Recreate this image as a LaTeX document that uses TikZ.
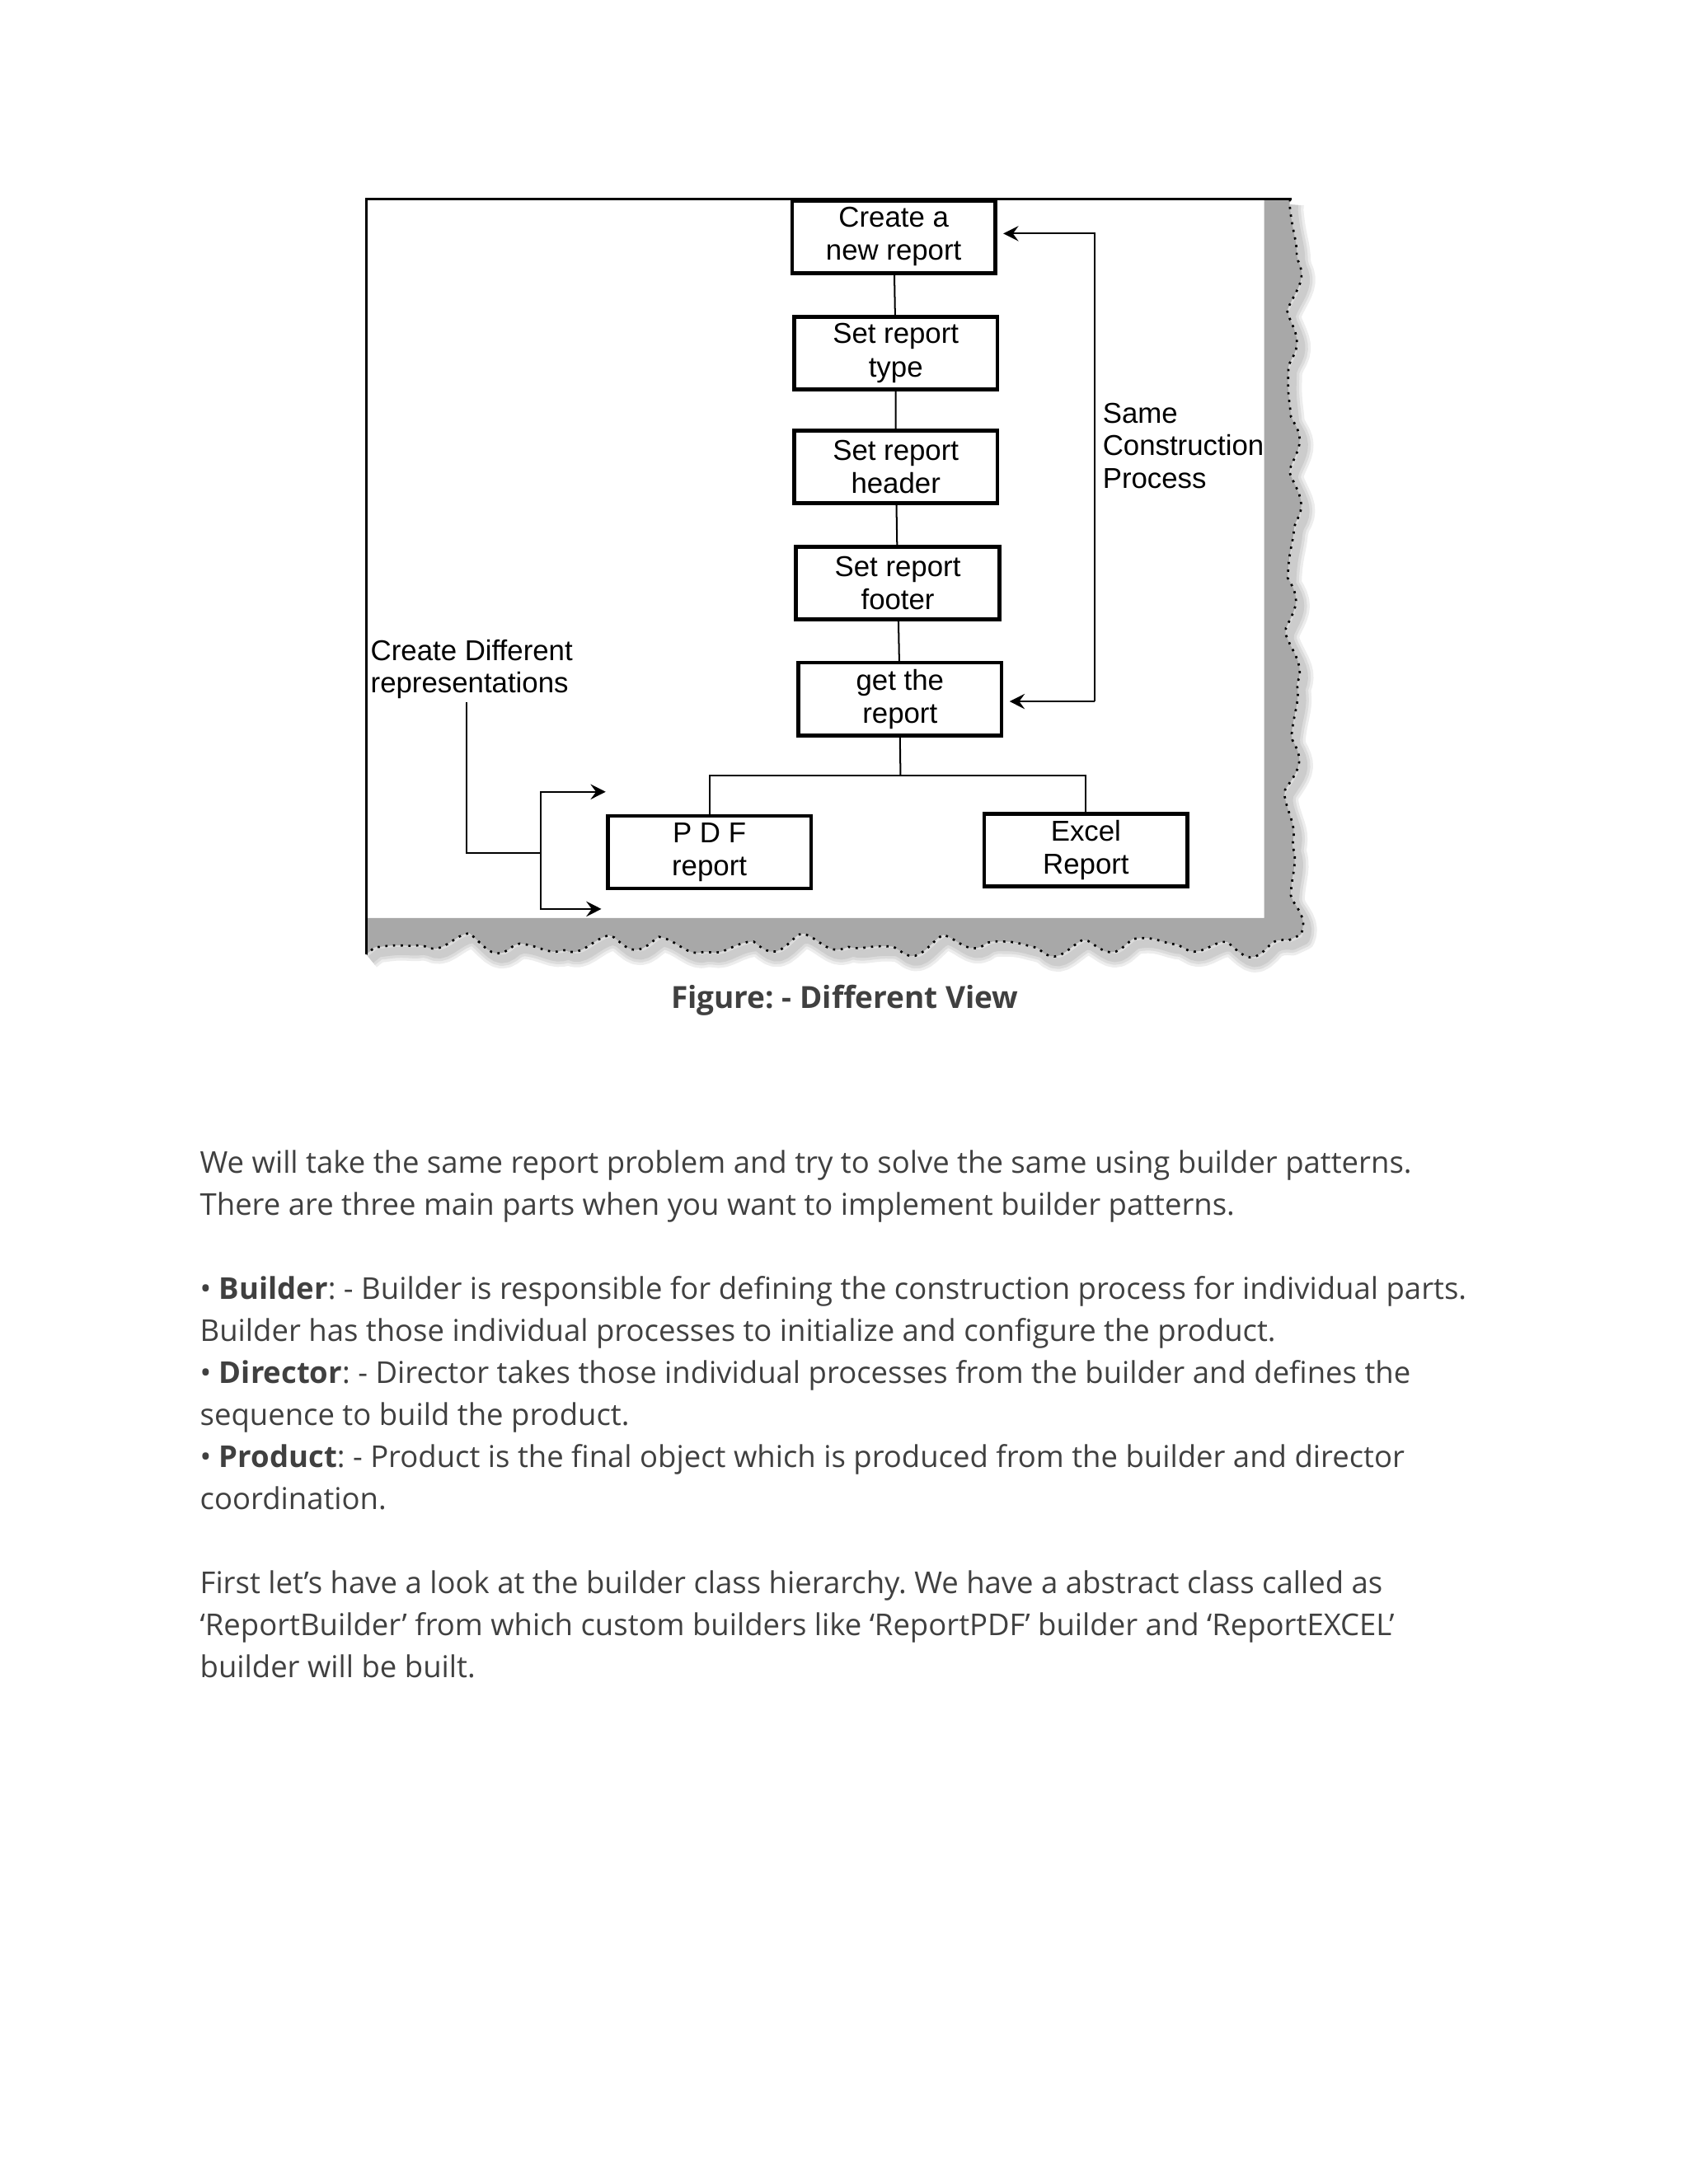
\documentclass[tikz,border=0pt]{standalone}
\usepackage{fontspec}
\setmainfont{Open Sans}
\newfontfamily\diafont{Liberation Sans}
\usetikzlibrary{arrows.meta}

\definecolor{textgray}{RGB}{64,64,64}
\definecolor{tornfill}{RGB}{168,168,168}

% borde rasgado: lado derecho y lado inferior
\newcommand{\tornedge}{%
    \foreach \t in {147,151,...,671} { -- ({tornx(\t)},\t) }
    \foreach \s in {925,921,...,267} { -- (\s,{torny(\s)}) }
    -- (263,{torny(263)})}

\begin{document}
\frenchspacing
\begin{tikzpicture}[x=0.50495pt, y=-0.50495pt,
    >={Stealth[length=5.5pt,width=5.5pt,inset=2pt]}, line width=0.6pt,
    declare function={
        tornx(\t)=926+3*sin(\t*6.1)+2.5*sin(\t*2.3+10)+4*abs(sin(\t*4.7+30));
        torny(\s)=676+4*sin(\s*7.3)+3*sin(\s*2.9+40)+5*abs(sin(\s*5.3+15));},
    stepbox/.style={draw, line width=1.35pt, minimum width=73.7pt,
        minimum height=26.3pt, inner sep=0pt, align=center,
        font=\diafont\fontsize{10.4}{12}\selectfont},
    sidenote/.style={align=left, inner sep=1pt,
        font=\diafont\fontsize{10.4}{11.8}\selectfont},
    bodyline/.style={anchor=base west, inner sep=0pt, text=textgray,
        font=\fontsize{10.9}{12}\selectfont},
    conn/.style={line width=0.6pt},
    backarrow/.style={->, line width=0.6pt, shorten >=2.2pt}]

% ═══════════════════════════════════════════════════════
% PAGINA
% ═══════════════════════════════════════════════════════

\fill[white] (0,0) rectangle (1212,1568);
\useasboundingbox (0,0) rectangle (1212,1568);

% ═══════════════════════════════════════════════════════
% BORDE RASGADO (sombra gris)
% ═══════════════════════════════════════════════════════

% sombra difusa
\foreach \w in {7,5,3}
    \draw[black, opacity=0.07, line width=\w pt, line join=round,
          shift={(3,4)}] (926,143) \tornedge;

% banda gris
\fill[tornfill] (907.5,143) -- (926,143) \tornedge
    -- (263,659) -- (907.5,659) -- cycle;

% borde punteado
\draw[dotted, line width=0.8pt] (926,143) \tornedge;

% marco
\draw[line width=0.8pt] (927,143) -- (263,143) -- (263,{torny(263)});

% ═══════════════════════════════════════════════════════
% PASOS DE CONSTRUCCION
% ═══════════════════════════════════════════════════════

\node[stepbox] (create)  at (641.5,170.0) {Create a\\new report};
\node[stepbox] (settype) at (643.0,253.5) {Set report\\type};
\node[stepbox] (sethead) at (643.0,335.3) {Set report\\header};
\node[stepbox] (setfoot) at (644.4,418.5) {Set report\\footer};
\node[stepbox] (getrep)  at (646.0,501.9) {get the\\report};

% representaciones
\node[stepbox] (pdfrep)   at (509.2,611.7) {P D F\\report};
\node[stepbox] (excelrep) at (779.5,610.3) {Excel\\Report};

% ═══════════════════════════════════════════════════════
% CONEXIONES
% ═══════════════════════════════════════════════════════

\draw[conn] (create) -- (settype) -- (sethead) -- (setfoot) -- (getrep);

\coordinate (bus) at (646.4,556.9);
\draw[conn] (getrep.south) -- (bus);
\draw[conn] (pdfrep.north) |- (bus) -| (excelrep.north);

% mismo proceso (lazo derecho)
\coordinate (looptop) at (785.8,167.7);
\coordinate (loopbot) at (785.8,503.6);
\draw[backarrow] (loopbot) -- (looptop) -- (create.east |- looptop);
\draw[backarrow] (loopbot) -- (getrep.east |- loopbot);

\node[sidenote, anchor=west] (sameproc) at (789,320)
    {Same\\Construction\\Process};

% representaciones diferentes (izquierda)
\node[sidenote, anchor=west] (diffrep) at (263.5,480.5)
    {Create Different\\representations};

\coordinate (fork)   at (388.1,612.5);
\coordinate (reptop) at (434.8,568.5);
\coordinate (repbot) at (431.7,652.6);
\draw[conn] (diffrep.south -| 335.1,0) -- (335.1,612.5) -- (fork);
\draw[->] (fork) |- (reptop);
\draw[->] (fork) |- (repbot);

% ═══════════════════════════════════════════════════════
% TEXTO
% ═══════════════════════════════════════════════════════

\node[font=\bfseries\fontsize{11.05}{12}\selectfont, text=textgray,
      anchor=base] (caption) at (606.4,724) {Figure: - Different View};

\node[bodyline] (l1)  at (143,842.1)
    {We will take the same report problem and try to solve the same using builder patterns.};
\node[bodyline] (l2)  at (143,872.3)
    {There are three main parts when you want to implement builder patterns.};
\node[bodyline] (l3)  at (143,932.7)
    {• \textbf{Builder}: - Builder is responsible for defining the construction process for individual parts.};
\node[bodyline] (l4)  at (143,962.9)
    {Builder has those individual processes to initialize and configure the product.};
\node[bodyline] (l5)  at (143,993.1)
    {• \textbf{Director}: - Director takes those individual processes from the builder and defines the};
\node[bodyline] (l6)  at (143,1023.3)
    {sequence to build the product.};
\node[bodyline] (l7)  at (143,1053.5)
    {• \textbf{Product}: - Product is the final object which is produced from the builder and director};
\node[bodyline] (l8)  at (143,1083.7)
    {coordination.};
\node[bodyline] (l9)  at (143,1144.1)
    {First let’s have a look at the builder class hierarchy. We have a abstract class called as};
\node[bodyline] (l10) at (143,1174.3)
    {‘ReportBuilder’ from which custom builders like ‘ReportPDF’ builder and ‘ReportEXCEL’};
\node[bodyline] (l11) at (143,1204.5)
    {builder will be built.};

\end{tikzpicture}
\end{document}
